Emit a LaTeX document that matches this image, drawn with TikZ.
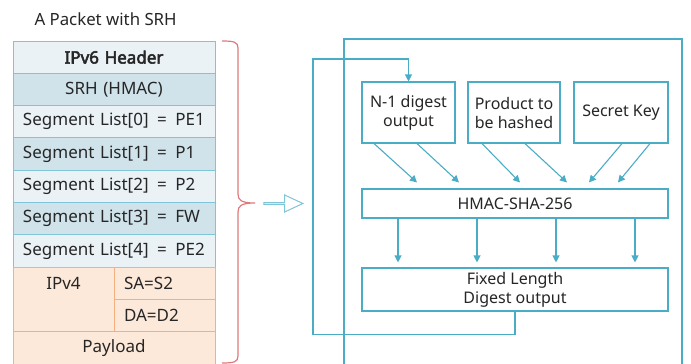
\documentclass[tikz,border=0pt]{standalone}
\usepackage{fontspec}
\setmainfont{Noto Sans}
\newfontfamily\hdfont{Noto Sans}[FakeBold=3]
\usetikzlibrary{positioning}
\usetikzlibrary{calc}
\usetikzlibrary{arrows.meta}
\usetikzlibrary{shapes.arrows}

\definecolor{pblue}{RGB}{128,196,216}
\definecolor{rowlight}{RGB}{234,242,246}
\definecolor{rowdark}{RGB}{209,227,234}
\definecolor{porange}{RGB}{245,176,128}
\definecolor{rowor}{RGB}{253,233,218}
\definecolor{bracered}{RGB}{224,122,122}
\definecolor{flowblue}{RGB}{75,172,198}
\definecolor{ink}{RGB}{38,38,38}

\newcommand{\tfont}{\fontsize{17}{20}\selectfont}
\newcommand{\bfont}{\fontsize{16}{19}\selectfont}

\tikzset{
  prow/.style={draw=pblue, line width=1pt, minimum width=202pt, minimum height=32.3pt,
    inner xsep=10pt, inner ysep=0pt, outer sep=0pt, text width=182pt, align=left,
    font=\tfont, text=ink},
  orow/.style={prow, draw=porange, fill=rowor},
  hbox/.style={draw=flowblue, line width=1.1pt, fill=white, align=center,
    font=\bfont, text=ink, inner sep=0pt},
  flow/.style={draw=flowblue, line width=1.1pt, -{Triangle[length=7pt,width=7pt]}},
  frame/.style={draw=flowblue, line width=1.1pt}
}

\begin{document}
\begin{tikzpicture}[x=1pt,y=-1pt]
\useasboundingbox (0,0) rectangle (691,364);

\node[font=\fontsize{16.8}{19}\selectfont, text=ink, anchor=west] (title) at (31,19) {A Packet with SRH};

% packet
\node[prow, fill=rowlight, align=center, anchor=north west] (ipv6) at (13,41) {\hdfont IPv6 Header};
\node[prow, fill=rowdark, align=center, below=0pt of ipv6] (srh) {SRH (HMAC)};
\node[prow, fill=rowlight, below=0pt of srh] (seg0) {Segment List[0] \,=\, PE1};
\node[prow, fill=rowdark, below=0pt of seg0] (seg1) {Segment List[1] \,=\, P1};
\node[prow, fill=rowlight, below=0pt of seg1] (seg2) {Segment List[2] \,=\, P2};
\node[prow, fill=rowdark, below=0pt of seg2] (seg3) {Segment List[3] \,=\, FW};
\node[prow, fill=rowlight, below=0pt of seg3] (seg4) {Segment List[4] \,=\, PE2};

\node[orow, minimum width=101pt, text width=81pt, minimum height=64.6pt, anchor=north west] (v4cell) at (seg4.south west) {};
\node[font=\tfont, text=ink] (ipv4) at ($(v4cell.north)+(0,16)$) {IPv4};
\node[orow, minimum width=101pt, text width=81pt, anchor=north west] (sa) at (v4cell.north east) {SA=S2};
\node[orow, minimum width=101pt, text width=81pt, below=0pt of sa] (da) {DA=D2};
\node[orow, align=center, anchor=north west] (payload) at (v4cell.south west) {Payload};

% brace
\draw[bracered, line width=1.2pt]
  (222,41) .. controls (234,41) and (238,42) .. (238,48) -- (238,194)
  .. controls (238,200) and (241,203) .. (255,203)
  .. controls (241,203) and (238,206) .. (238,212) -- (238,356)
  .. controls (238,362) and (234,363) .. (222,363);

\node[single arrow, draw=pblue, line width=1pt, fill=white, inner sep=0pt,
  minimum width=17pt, minimum height=39pt, single arrow head extend=4.5pt,
  single arrow tip angle=50] (harrow) at (282.5,203.5) {};

% HMAC
\draw[frame] (344,366) |- (682,39) -- (682,366);

\node[hbox, minimum width=93pt, minimum height=61pt] (n1) at (408.5,112.5) {N-1 digest\\output};
\node[hbox, minimum width=92pt, minimum height=61pt] (prod) at (514,112.5) {Product to\\be hashed};
\node[hbox, minimum width=94pt, minimum height=61pt] (key) at (621,112.5) {Secret Key};
\node[hbox, minimum width=306pt, minimum height=29pt] (hmac) at (515,203.5) {HMAC-SHA-256};
\node[hbox, minimum width=306pt, minimum height=43pt] (fixed) at (515,289.5) {Fixed Length\\Digest output};

\draw[flow] ([xshift=-34.5]n1.south) -- ([xshift=-98,yshift=6]hmac.north);
\draw[flow] ([xshift=8.5]n1.south) -- ([xshift=-56,yshift=6]hmac.north);
\draw[flow] ([xshift=-32]prod.south) -- ([xshift=5,yshift=6]hmac.north);
\draw[flow] ([xshift=11]prod.south) -- ([xshift=52,yshift=6]hmac.north);
\draw[flow] ([xshift=1]key.south) -- ([xshift=74,yshift=6]hmac.north);
\draw[flow] ([xshift=29]key.south) -- ([xshift=103,yshift=6]hmac.north);

\draw[flow] ([xshift=-117]hmac.south) -- ([xshift=-117,yshift=5]fixed.north);
\draw[flow] ([xshift=-38]hmac.south) -- ([xshift=-38,yshift=5]fixed.north);
\draw[flow] ([xshift=41]hmac.south) -- ([xshift=41,yshift=5]fixed.north);
\draw[flow] ([xshift=120]hmac.south) -- ([xshift=120,yshift=5]fixed.north);

\coordinate (loop) at (313,59);
\draw[flow] (fixed.south) -- ++(0,23) -| (loop) -| (n1.north);
\end{tikzpicture}
\end{document}
